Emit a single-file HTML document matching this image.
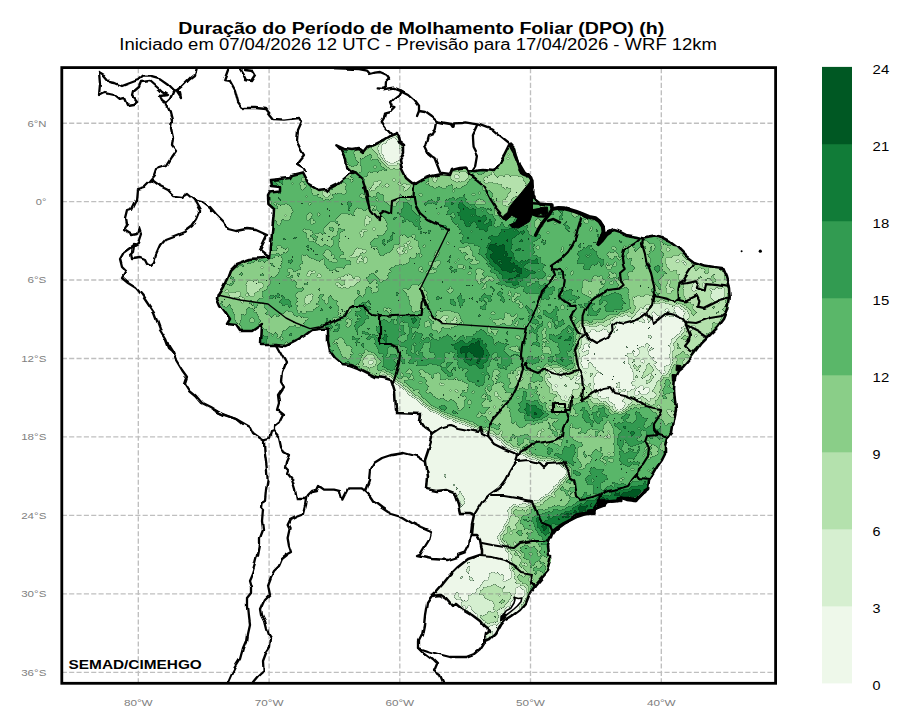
<!DOCTYPE html>
<html><head><meta charset="utf-8"><title>DPO</title>
<style>html,body{margin:0;padding:0;background:#fff}body{width:909px;height:727px;overflow:hidden;font-family:"Liberation Sans",sans-serif}svg{display:block}text{font-family:"Liberation Sans",sans-serif}</style>
</head><body>
<svg width="909" height="727" viewBox="0 0 909 727">
<rect width="909" height="727" fill="#fff"/>
<text x="178.3" y="34.4" font-size="16" font-weight="700" textLength="486" lengthAdjust="spacingAndGlyphs" fill="#000">Duração do Período de Molhamento Foliar (DPO) (h)</text>
<text x="119.3" y="50.4" font-size="16" textLength="597.7" lengthAdjust="spacingAndGlyphs" fill="#000">Iniciado em 07/04/2026 12 UTC - Previsão para 17/04/2026 - WRF 12km</text>
<defs>
<clipPath id="ax"><rect x="61.8" y="67.6" width="713.8" height="615.7"/></clipPath>
<clipPath id="br"><path d="M270.0 258.0 L271.0 248.0 L272.0 232.0 L273.6 216.0 L274.0 209.0 L268.4 204.0 L268.0 196.0 L270.0 192.4 L280.0 191.6 L280.0 187.0 L271.0 186.0 L270.0 180.0 L290.0 178.0 L292.0 175.0 L302.0 172.4 L306.0 180.0 L308.0 184.0 L318.0 190.0 L326.0 189.0 L328.0 191.0 L330.0 188.0 L338.0 184.0 L350.0 174.0 L355.0 172.4 L350.0 170.0 L347.0 167.0 L346.0 160.0 L343.0 154.0 L341.0 150.0 L337.0 145.6 L336.4 145.4 L344.0 149.0 L352.0 150.0 L358.0 149.0 L362.0 152.0 L366.0 147.0 L374.0 145.0 L384.0 140.0 L392.0 135.0 L397.0 133.0 L399.0 142.0 L404.0 146.0 L404.0 152.0 L400.0 160.0 L402.0 170.0 L406.0 178.0 L412.0 183.0 L416.0 184.0 L414.0 183.0 L416.0 183.6 L422.0 180.0 L432.0 176.0 L442.0 174.0 L450.0 175.0 L452.0 170.0 L460.0 168.0 L466.0 167.6 L468.0 170.0 L474.0 171.0 L484.0 170.0 L494.0 171.0 L500.0 163.0 L504.0 156.0 L509.0 146.0 L511.0 143.6 L515.0 148.0 L517.0 156.0 L520.0 166.0 L522.0 173.0 L528.0 175.0 L532.0 180.0 L532.0 186.0 L532.5 196.4 L541.5 203.7 L552.0 204.6 L552.7 208.9 L558.6 207.9 L563.9 208.3 L569.2 209.6 L575.8 211.6 L582.4 214.2 L589.0 216.9 L595.6 218.2 L599.6 221.5 L602.9 226.8 L603.5 232.0 L601.3 238.6 L598.5 243.9 L602.2 240.0 L606.2 234.7 L610.0 232.0 L604.0 234.0 L613.0 230.0 L620.0 232.0 L626.0 235.0 L638.0 237.0 L643.0 238.4 L654.0 236.6 L662.0 238.0 L670.0 242.0 L678.0 248.0 L686.0 256.0 L694.0 262.0 L702.0 264.8 L702.0 265.0 L714.0 267.0 L722.0 268.0 L726.0 277.0 L729.0 289.0 L729.6 299.0 L728.0 309.0 L724.0 319.0 L718.0 327.0 L710.0 335.0 L702.0 343.0 L696.0 351.0 L690.0 359.0 L683.0 367.0 L678.0 371.0 L675.0 377.0 L674.0 389.0 L675.0 401.0 L676.0 409.8 L676.0 410.0 L674.0 420.0 L672.0 432.0 L667.0 438.0 L665.0 446.0 L665.0 454.0 L662.0 460.0 L657.0 467.0 L653.0 474.0 L649.0 480.0 L648.0 489.0 L642.0 492.0 L638.0 496.0 L636.0 499.0 L628.0 498.0 L620.0 498.0 L617.0 501.0 L608.0 502.0 L600.0 506.0 L594.0 510.0 L586.0 513.0 L578.0 514.0 L574.0 516.0 L573.0 519.0 L564.0 524.0 L556.0 530.0 L550.0 538.0 L548.0 546.0 L549.0 554.8 L551.0 555.0 L551.0 561.0 L548.0 571.0 L541.0 579.0 L535.0 586.0 L530.0 593.0 L526.0 603.0 L520.0 610.0 L512.0 616.0 L504.0 621.0 L500.0 626.0 L496.0 633.0 L490.0 639.0 L485.0 641.4 L485.0 640.0 L486.0 634.0 L490.0 631.0 L488.0 629.0 L484.0 626.0 L480.0 621.0 L472.0 615.0 L462.0 609.0 L456.0 604.0 L452.0 606.0 L446.0 599.0 L440.0 595.0 L432.0 596.0 L435.0 593.0 L442.0 585.0 L450.0 575.0 L458.0 567.0 L468.0 559.0 L480.0 555.0 L482.0 554.8 L482.0 550.0 L480.0 540.0 L477.0 535.0 L471.0 535.0 L470.0 538.0 L471.0 534.0 L472.0 524.0 L474.0 515.0 L469.0 513.0 L460.0 513.0 L458.0 504.0 L454.0 493.0 L446.0 490.0 L436.0 491.0 L426.0 489.0 L427.0 476.0 L425.0 462.0 L425.0 460.0 L429.0 448.0 L432.0 438.0 L431.0 433.0 L424.0 428.0 L420.0 422.0 L421.0 414.0 L397.0 413.0 L397.0 410.0 L396.0 409.8 L395.0 393.0 L392.0 383.0 L391.0 380.0 L384.0 378.0 L376.0 377.0 L368.0 373.0 L358.0 368.0 L350.0 365.0 L342.0 364.0 L335.0 358.0 L330.0 351.0 L328.0 341.0 L328.0 331.0 L328.0 328.6 L319.0 329.0 L312.0 330.0 L304.0 336.0 L296.0 341.0 L286.0 346.0 L276.0 345.0 L261.0 345.0 L262.0 324.0 L252.0 331.0 L240.0 331.0 L236.0 325.0 L227.0 324.0 L230.0 319.0 L226.0 313.0 L220.0 305.0 L217.0 298.0 L218.0 295.0 L223.0 287.0 L227.0 279.0 L230.0 271.0 L236.0 265.0 L236.0 264.0 L250.0 259.0 L270.0 257.6Z"/></clipPath>
<filter id="fld" filterUnits="userSpaceOnUse" x="200" y="110" width="560" height="560" color-interpolation-filters="sRGB">
<feGaussianBlur in="SourceGraphic" stdDeviation="3.0" result="sb"/>
<feColorMatrix in="sb" type="matrix" values="1 0 0 0 0 1 0 0 0 0 1 0 0 0 0 0 0 0 0 1" result="m"/>
<feColorMatrix in="sb" type="matrix" values="0 1 0 0 0 0 1 0 0 0 0 1 0 0 0 0 0 0 0 1" result="am"/>
<feTurbulence type="fractalNoise" baseFrequency="0.045" numOctaves="3" seed="3" result="t"/>
<feColorMatrix in="t" type="matrix" values="1 0 0 0 0 1 0 0 0 0 1 0 0 0 0 0 0 0 0 1" result="n1"/>
<feTurbulence type="fractalNoise" baseFrequency="0.17" numOctaves="2" seed="8" result="t2"/>
<feColorMatrix in="t2" type="matrix" values="1 0 0 0 0 1 0 0 0 0 1 0 0 0 0 0 0 0 0 1" result="n2"/>
<feComposite in="n1" in2="n2" operator="arithmetic" k1="0" k2="0.65" k3="0.35" k4="0" result="n"/>
<feComposite in="am" in2="n" operator="arithmetic" k1="1" k2="0" k3="0" k4="0" result="p"/>
<feComposite in="m" in2="p" operator="arithmetic" k1="0" k2="0.6" k3="0.4" k4="0" result="qq"/>
<feComposite in="qq" in2="am" operator="arithmetic" k1="0" k2="2" k3="-0.4" k4="-0.1" result="v"/>
<feComponentTransfer in="v" result="q"><feFuncR type="discrete" tableValues="0 .14 .28 .42 .57 .71 .85 1"/><feFuncG type="discrete" tableValues="0 .14 .28 .42 .57 .71 .85 1"/><feFuncB type="discrete" tableValues="0 .14 .28 .42 .57 .71 .85 1"/></feComponentTransfer>
<feConvolveMatrix in="q" order="3" kernelMatrix="0 -1 0 -1 4 -1 0 -1 0" divisor="1" preserveAlpha="true" result="lp"/>
<feColorMatrix in="lp" type="matrix" values="0 0 0 0 0.06 0 0 0 0 0.18 0 0 0 0 0.1 1.8 0 0 0 0" result="ed"/>
<feComponentTransfer in="v" result="c"><feFuncR type="discrete" tableValues="0.9333 0.8392 0.7059 0.5412 0.3529 0.1961 0.0667 0.0000"/><feFuncG type="discrete" tableValues="0.9725 0.9373 0.8824 0.8078 0.7176 0.6078 0.4863 0.3451"/><feFuncB type="discrete" tableValues="0.9176 0.8157 0.6784 0.5333 0.4118 0.3176 0.2196 0.1373"/></feComponentTransfer>
<feMerge><feMergeNode in="c"/><feMergeNode in="ed"/></feMerge>
</filter>
<filter id="wb" filterUnits="userSpaceOnUse" x="55" y="60" width="730" height="630"><feTurbulence type="fractalNoise" baseFrequency="0.09" numOctaves="1" seed="11" result="w"/><feDisplacementMap in="SourceGraphic" in2="w" scale="5.0" xChannelSelector="R" yChannelSelector="G"/></filter>
</defs>
<g clip-path="url(#ax)">
<g clip-path="url(#br)">
<g filter="url(#fld)">
<rect x="190" y="100" width="580" height="580" fill="#8d9900"/>
<path d="M470.0 330.0 L560.0 300.0 L600.0 330.0 L700.0 400.0 L720.0 470.0 L660.0 520.0 L560.0 530.0 L520.0 600.0 L480.0 560.0 L500.0 470.0 L470.0 420.0Z" fill="#8dd900"/>
<path d="M380.0 310.0 L470.0 310.0 L500.0 400.0 L440.0 420.0 L390.0 380.0Z" fill="#8db200"/>
<path d="M540.0 250.0 L740.0 230.0 L740.0 330.0 L600.0 340.0 L540.0 300.0Z" fill="#8da600"/>
<path d="M440.0 190.0 L520.0 195.0 L565.0 290.0 L520.0 315.0 L450.0 265.0Z" fill="#8dd900"/>
<path d="M275.0 206.7 L288.3 204.3 L295.0 211.7 L290.0 221.7 L278.3 218.3Z" fill="#729900"/>
<path d="M306.7 210.0 L320.0 208.3 L325.0 220.0 L316.7 225.0 L308.3 221.7Z" fill="#729900"/>
<path d="M320.0 225.0 L336.7 221.7 L353.3 208.3 L366.7 205.0 L383.3 213.3 L391.7 225.0 L383.3 235.0 L370.0 240.0 L366.7 253.3 L380.0 258.3 L391.7 248.3 L400.0 240.0 L413.3 236.7 L423.3 240.0 L416.7 250.0 L406.7 256.7 L396.7 265.0 L391.7 276.7 L380.0 285.0 L370.0 295.0 L360.0 301.7 L343.3 306.7 L333.3 301.7 L320.0 306.7 L306.7 311.7 L295.0 306.7 L298.3 293.3 L310.0 281.7 L305.0 270.0 L298.3 256.7 L306.7 250.0 L320.0 261.7 L333.3 271.7 L346.7 266.7 L338.3 251.7 L326.7 240.0Z" fill="#729900"/>
<path d="M321.7 240.0 L338.3 241.7 L343.3 256.7 L330.0 258.3Z" fill="#8d9900"/>
<path d="M370.0 236.7 L385.0 238.3 L388.3 256.7 L373.3 255.0Z" fill="#8d9900"/>
<path d="M351.7 250.0 L365.0 246.7 L368.3 255.0 L356.7 260.0Z" fill="#5a9900"/>
<path d="M300.0 296.7 L313.3 293.3 L318.3 301.7 L305.0 306.7Z" fill="#5d9900"/>
<path d="M220.0 285.0 L230.0 271.7 L246.7 265.0 L266.7 261.7 L276.7 271.7 L270.0 285.0 L256.7 295.0 L240.0 301.7 L225.0 296.7Z" fill="#6d9900"/>
<path d="M243.3 280.0 L260.0 280.0 L262.7 290.0 L248.3 294.3Z" fill="#5a9900"/>
<path d="M230.0 305.0 L253.3 305.0 L276.7 315.0 L286.7 325.0 L270.0 328.3 L250.0 318.3 L233.3 315.0Z" fill="#759900"/>
<path d="M321.7 191.0 L330.0 190.0 L331.7 195.7 L323.3 196.7Z" fill="#309900"/>
<path d="M338.3 145.0 L396.7 133.3 L410.0 185.0 L413.3 196.7 L376.7 221.7 L366.7 185.0Z" fill="#6d9900"/>
<path d="M356.7 158.3 L376.7 156.7 L380.0 175.0 L363.3 178.3Z" fill="#829900"/>
<path d="M371.7 190.0 L396.7 183.3 L410.0 196.7 L383.3 215.0 L374.0 205.0Z" fill="#859900"/>
<path d="M381.7 143.3 L398.3 134.3 L406.0 158.3 L391.7 165.7 L381.7 157.7Z" fill="#0d9900"/>
<path d="M338.3 146.7 L350.0 148.3 L356.7 161.7 L353.3 168.3 L346.7 161.7Z" fill="#aa9900"/>
<path d="M401.7 201.7 L413.3 205.0 L423.3 221.7 L413.3 225.0 L403.3 215.0Z" fill="#a59900"/>
<path d="M406.7 288.3 L423.3 281.7 L426.7 298.3 L420.0 315.0 L406.7 311.7Z" fill="#729900"/>
<path d="M436.7 313.3 L460.0 311.7 L463.3 325.0 L443.3 326.7Z" fill="#6db200"/>
<path d="M330.0 318.3 L356.7 305.0 L380.0 315.0 L423.3 316.7 L443.3 331.7 L463.3 338.3 L513.0 338.3 L513.0 367.0 L333.3 367.0Z" fill="#92b200"/>
<path d="M350.0 318.3 L376.7 318.3 L376.7 338.3 L353.3 338.3Z" fill="#9f9900"/>
<path d="M333.3 338.3 L350.0 331.7 L356.7 351.7 L343.3 361.7Z" fill="#709900"/>
<path d="M363.3 355.0 L375.0 353.3 L376.7 367.0 L365.0 367.0Z" fill="#5a9900"/>
<path d="M380.0 316.7 L420.0 316.7 L420.0 325.0 L400.0 325.0 L400.0 345.0 L380.0 345.0Z" fill="#adb200"/>
<path d="M223.3 298.3 L253.3 301.7 L293.3 311.7 L310.0 325.0 L276.7 325.0 L243.3 318.3 L223.3 305.0Z" fill="#809900"/>
<path d="M466.7 171.7 L496.7 168.3 L510.0 145.0 L521.7 175.0 L530.0 188.3 L513.3 208.3 L500.0 211.7 L486.7 188.3Z" fill="#659900"/>
<path d="M515.0 175.0 L523.3 175.0 L530.0 190.0 L520.0 196.7 L513.3 188.3Z" fill="#5a9900"/>
<path d="M430.0 175.0 L466.7 170.0 L473.3 178.3 L460.0 188.3 L443.3 185.0 L430.0 186.7Z" fill="#709900"/>
<path d="M540.0 275.0 L563.3 271.7 L576.7 311.7 L580.0 367.0 L523.3 367.0 L530.0 311.7Z" fill="#97d900"/>
<path d="M580.0 221.7 L603.3 235.0 L640.0 238.3 L643.3 265.0 L630.0 281.7 L586.7 280.0 L576.7 265.0Z" fill="#93a600"/>
<path d="M580.0 281.7 L616.7 271.7 L630.0 291.7 L586.7 298.3Z" fill="#7da600"/>
<path d="M593.3 298.3 L616.7 291.7 L630.0 305.0 L620.0 318.3 L596.7 315.0Z" fill="#9fa600"/>
<path d="M623.3 238.3 L646.7 240.0 L656.7 298.3 L630.0 298.3 L626.7 268.3Z" fill="#7da600"/>
<path d="M663.3 241.7 L693.3 261.7 L683.3 281.7 L676.7 298.3 L660.0 291.7Z" fill="#65a600"/>
<path d="M683.3 265.0 L716.7 265.0 L730.0 281.7 L726.7 305.0 L696.7 311.7 L680.0 298.3Z" fill="#52a600"/>
<path d="M586.7 325.0 L616.7 321.7 L646.7 311.7 L650.0 325.0 L616.7 338.3 L590.0 341.7Z" fill="#4aa600"/>
<path d="M630.0 298.3 L650.0 291.7 L656.7 315.0 L643.3 321.7Z" fill="#4aa600"/>
<path d="M583.3 338.3 L616.7 338.3 L650.0 325.0 L663.3 311.7 L690.0 338.3 L690.0 367.0 L583.3 367.0Z" fill="#289900"/>
<path d="M656.7 301.7 L683.3 305.0 L696.7 318.3 L686.7 338.3 L663.3 325.0 L650.0 311.7Z" fill="#30a600"/>
<path d="M696.7 311.7 L726.7 298.3 L723.3 318.3 L706.7 338.3 L690.0 338.3Z" fill="#5aa600"/>
<path d="M448.3 196.7 L473.3 200.0 L498.3 223.3 L528.3 233.3 L545.0 271.7 L541.7 295.0 L513.3 288.3 L488.3 266.7 L465.0 240.0 L451.7 218.3Z" fill="#add900"/>
<path d="M459.3 204.3 L475.0 208.3 L500.0 233.3 L525.0 255.0 L535.0 278.3 L517.3 279.0 L495.0 260.0 L475.0 236.7 L461.7 217.7Z" fill="#c2d900"/>
<path d="M493.3 244.3 L508.3 249.0 L523.3 265.0 L529.0 278.3 L515.0 277.3 L500.7 261.0Z" fill="#e2d900"/>
<path d="M396.7 363.3 L520.0 363.3 L513.3 413.3 L490.0 426.7 L463.3 410.0 L430.0 396.7 L400.0 380.0Z" fill="#80b200"/>
<path d="M400.0 336.7 L446.7 333.3 L496.7 340.0 L513.3 360.0 L505.0 380.0 L480.0 385.0 L446.7 376.7 L413.3 365.0 L400.0 353.3Z" fill="#9db200"/>
<path d="M453.3 341.7 L478.3 338.3 L491.7 353.3 L485.0 368.3 L465.0 365.0Z" fill="#c5d900"/>
<path d="M461.7 346.7 L476.7 344.0 L486.0 355.0 L480.0 363.3 L468.3 360.7Z" fill="#dcd900"/>
<path d="M490.0 370.0 L580.0 370.0 L580.0 430.0 L566.7 453.3 L520.0 453.3 L490.0 430.0Z" fill="#80d900"/>
<path d="M524.0 402.7 L543.3 400.7 L547.3 417.3 L530.0 422.0Z" fill="#bdd900"/>
<path d="M566.7 390.0 L663.3 390.0 L663.3 496.7 L566.7 496.7Z" fill="#8fd900"/>
<path d="M593.3 406.7 L633.3 403.3 L646.7 416.7 L640.0 440.0 L620.0 430.0 L596.7 426.7Z" fill="#a2d900"/>
<path d="M576.7 430.0 L600.0 430.0 L603.3 456.7 L580.0 463.3Z" fill="#72d900"/>
<path d="M613.3 440.0 L643.3 443.3 L640.0 470.0 L616.7 463.3Z" fill="#a2d900"/>
<path d="M603.3 423.3 L613.3 423.3 L615.0 456.7 L605.0 456.7Z" fill="#65d900"/>
<path d="M580.0 390.0 L656.7 391.7 L653.3 406.7 L613.3 401.7 L583.3 406.7Z" fill="#65d900"/>
<path d="M580.0 473.3 L646.7 470.0 L643.3 493.3 L583.3 496.7Z" fill="#9fd900"/>
<path d="M640.0 430.0 L670.0 430.0 L666.7 483.3 L640.0 483.3Z" fill="#87d900"/>
<path d="M673.3 363.3 L683.0 363.3 L683.0 430.0 L670.0 430.0Z" fill="#8dd900"/>
<path d="M380.0 370.0 L392.0 378.0 L400.0 385.0 L412.0 393.0 L422.0 403.0 L432.0 410.0 L445.0 416.0 L460.0 422.0 L475.0 428.0 L490.0 433.0 L505.0 445.0 L520.0 452.0 L540.0 460.0 L560.0 462.0 L568.0 468.0 L569.0 478.0 L560.0 490.0 L547.0 497.0 L537.0 503.0 L520.0 510.0 L510.0 517.0 L503.0 530.0 L497.0 543.0 L495.0 560.0 L380.0 560.0Z" fill="#089900"/>
<path d="M426.7 470.0 L500.0 470.0 L510.0 503.3 L500.0 536.7 L510.0 553.3 L510.0 570.0 L530.0 583.3 L510.0 643.3 L420.0 643.3Z" fill="#15d900"/>
<path d="M580.0 326.7 L613.3 316.7 L653.3 306.7 L680.0 310.0 L693.3 326.7 L690.0 353.3 L673.3 373.3 L660.0 393.3 L636.7 403.3 L620.0 413.3 L593.3 400.0 L578.3 380.0 L575.0 350.0Z" fill="#3dd900"/>
<path d="M586.7 333.3 L613.3 323.3 L650.0 313.3 L673.3 316.7 L686.7 330.0 L683.3 350.0 L666.7 370.0 L653.3 386.7 L633.3 396.7 L616.7 406.7 L596.7 393.3 L583.3 376.7 L580.0 350.0Z" fill="#29d900"/>
<path d="M593.3 340.0 L620.0 330.0 L640.0 326.7 L643.3 346.7 L626.7 360.0 L606.7 366.7 L593.3 360.0Z" fill="#15d900"/>
<path d="M650.0 316.7 L673.3 320.0 L680.0 333.3 L666.7 350.0 L653.3 343.3Z" fill="#15a600"/>
<path d="M630.0 360.0 L650.0 350.0 L656.7 363.3 L650.0 383.3 L636.7 390.0 L628.3 376.7Z" fill="#48d900"/>
<path d="M600.0 376.7 L623.3 370.0 L630.0 390.0 L616.7 400.0 L603.3 390.0Z" fill="#18d900"/>
<path d="M673.3 336.7 L690.0 333.3 L691.7 353.3 L680.0 366.7 L671.7 356.7Z" fill="#559900"/>
<path d="M673.3 363.3 L686.7 350.0 L678.3 373.3 L676.7 406.7 L673.3 436.7 L663.3 443.3 L653.3 410.0 L660.0 383.3Z" fill="#7ad900"/>
<path d="M683.3 316.7 L713.3 310.0 L726.7 300.0 L728.3 316.7 L706.7 336.7 L693.3 350.0 L686.7 346.7Z" fill="#60a600"/>
<path d="M543.3 366.7 L563.3 366.7 L573.3 383.3 L570.0 403.3 L560.0 406.7 L553.3 390.0Z" fill="#30d900"/>
<path d="M543.3 373.3 L560.0 370.0 L580.0 373.3 L580.0 396.7 L566.7 400.0 L553.3 386.7Z" fill="#3dd900"/>
<path d="M550.0 492.0 L572.0 472.0 L580.0 490.0 L582.0 500.0 L560.0 513.0 L545.0 517.0Z" fill="#7ad900"/>
<path d="M510.0 506.7 L543.3 496.7 L556.7 530.0 L553.3 570.0 L533.3 586.7 L516.7 570.0 L503.3 540.0Z" fill="#65d900"/>
<path d="M521.7 515.0 L540.0 505.0 L550.0 530.0 L551.7 556.7 L546.7 573.3 L535.0 578.3 L526.7 563.3 L518.3 543.3 L514.0 533.3Z" fill="#87d900"/>
<path d="M535.0 520.0 L546.7 513.3 L550.7 533.3 L549.0 545.0 L538.3 541.7Z" fill="#aad900"/>
<path d="M458.0 575.0 L482.0 567.0 L504.0 571.0 L520.0 585.0 L512.0 605.0 L496.0 621.0 L486.0 631.0 L478.0 621.0 L468.0 611.0 L458.0 601.0 L452.0 587.0Z" fill="#2d9900"/>
<path d="M472.0 595.0 L486.0 585.0 L500.0 583.0 L512.0 589.0 L512.0 601.0 L500.0 613.0 L488.0 625.0 L480.0 623.0 L474.0 611.0Z" fill="#4d9900"/>
<path d="M494.0 598.0 L510.0 594.0 L512.0 600.0 L498.0 606.0Z" fill="#709900"/>
<path d="M484.0 613.0 L498.0 611.0 L499.0 621.0 L486.0 624.0Z" fill="#709900"/>
<path d="M485.0 632.0 L492.0 631.0 L490.0 639.0 L485.0 640.0Z" fill="#659900"/>
<path d="M510.0 566.7 L533.3 573.3 L531.7 585.0 L516.7 583.3Z" fill="#72d900"/>
<path d="M537.8 515.5 L555.6 509.6 L575.4 499.7 L595.2 491.8 L615.0 483.9 L630.9 477.9 L646.7 470.0 L656.6 470.0 L648.7 481.9 L647.7 488.8 L638.8 497.7 L626.9 499.7 L617.0 500.7 L603.2 505.6 L591.3 512.6 L577.4 516.5 L563.6 523.5 L552.7 531.4 L549.7 545.2 L539.8 545.2 L538.8 529.4Z" fill="#aad900"/>
<path d="M541.8 523.5 L559.6 514.6 L579.4 505.6 L599.2 497.7 L619.0 492.8 L638.8 487.8 L646.7 479.9 L649.7 485.8 L639.8 497.7 L621.0 497.7 L605.1 503.7 L591.3 511.6 L577.4 515.9 L563.6 522.7 L551.7 531.4 L543.8 534.4Z" fill="#dad900"/>
<path d="M450.0 172.4 L466.0 171.0 L469.0 178.0 L458.0 181.0 L451.0 179.0Z" fill="#4a9900"/>
</g>
</g>
<path d="M138.3 683.3 V67.6 M269.1 683.3 V67.6 M399.8 683.3 V67.6 M530.5 683.3 V67.6 M661.3 683.3 V67.6 M61.8 123.2 H775.6 M61.8 201.6 H775.6 M61.8 280.0 H775.6 M61.8 358.5 H775.6 M61.8 436.9 H775.6 M61.8 515.4 H775.6 M61.8 593.9 H775.6 M61.8 672.3 H775.6" fill="none" stroke="#808080" stroke-opacity="0.5" stroke-width="1.35" stroke-dasharray="5.1 2.25"/>
<g filter="url(#wb)">
<path d="M355.0 172.0 L362.0 178.0 L365.0 186.0 L367.0 196.0 L369.0 206.0 L364.0 186.0 L367.0 200.0 L370.0 210.0 L376.0 217.0 L380.0 220.0 L380.0 214.0 L384.0 211.0 L391.0 214.0 L392.0 200.0 L400.0 197.0 L413.6 197.0" fill="none" stroke="#000" stroke-width="2.2" stroke-linejoin="round" stroke-linecap="round"/>
<path d="M414.0 183.6 L413.6 196.0 L415.0 204.0 L420.0 213.0 L428.0 220.0 L438.0 225.0 L449.0 229.0" fill="none" stroke="#000" stroke-width="2.2" stroke-linejoin="round" stroke-linecap="round"/>
<path d="M420.0 289.0 L423.0 297.0 L428.0 309.0 L434.0 318.0 L442.0 323.4" fill="none" stroke="#000" stroke-width="2.2" stroke-linejoin="round" stroke-linecap="round"/>
<path d="M420.0 289.0 L423.0 299.0 L421.6 315.0 L392.0 316.0 L391.0 316.6 L380.0 316.0 L380.0 344.0 L391.0 344.0 L392.0 345.0 L398.0 347.0 L400.0 353.0 L399.0 363.0 L396.0 373.0 L393.0 383.0" fill="none" stroke="#000" stroke-width="2.2" stroke-linejoin="round" stroke-linecap="round"/>
<path d="M468.0 170.0 L469.0 174.0 L476.0 179.0 L482.0 184.0 L487.0 192.0 L491.0 200.0 L496.0 208.0 L501.0 214.0 L505.0 218.0" fill="none" stroke="#000" stroke-width="2.2" stroke-linejoin="round" stroke-linecap="round"/>
<path d="M319.0 327.0 L330.0 323.0 L338.0 319.0 L346.0 317.0 L350.0 309.0 L354.0 306.0 L362.0 306.0 L368.0 311.0 L374.0 315.0 L380.0 316.0" fill="none" stroke="#000" stroke-width="2.2" stroke-linejoin="round" stroke-linecap="round"/>
<path d="M552.0 269.0 L554.0 275.0 L550.0 283.0 L542.0 291.0 L539.0 303.0 L532.0 317.0 L526.0 329.0 L522.0 345.0 L521.0 355.0 L522.0 365.0 L523.0 369.0 L520.0 379.0 L516.0 389.0 L512.0 397.0 L504.0 405.0 L500.0 409.8 L501.0 410.0 L494.0 418.0 L489.0 426.0 L488.0 437.0 L494.0 444.0 L504.0 449.0 L514.0 453.0 L518.0 456.0 L516.0 462.0 L510.0 472.0 L506.0 480.0 L500.0 488.0 L490.0 495.0 L482.0 502.0 L477.0 510.0 L474.0 515.0" fill="none" stroke="#000" stroke-width="2.2" stroke-linejoin="round" stroke-linecap="round"/>
<path d="M523.0 369.0 L526.0 363.0 L528.0 369.0 L538.0 373.0 L544.0 369.0 L552.0 373.0 L562.0 375.0 L573.0 371.0 L578.0 370.0" fill="none" stroke="#000" stroke-width="2.2" stroke-linejoin="round" stroke-linecap="round"/>
<path d="M581.0 218.0 L578.0 228.0 L575.0 240.0 L573.0 244.0 L568.0 252.0 L562.0 258.0 L552.0 264.8 L552.0 269.0 L559.8 270.0 L563.0 273.0 L563.7 281.0 L562.0 290.0 L559.8 295.0 L564.0 301.0 L570.0 305.0 L575.0 304.7 L576.0 308.5 L572.0 310.7 L570.0 316.0 L572.0 322.0 L575.0 328.0 L578.5 333.0 L585.0 334.0 L587.0 334.0 L585.0 335.0 L580.7 339.0 L577.0 345.0 L575.0 350.0 L578.0 365.0 L582.0 377.0 L583.0 389.0 L582.0 399.0 L581.0 401.0" fill="none" stroke="#000" stroke-width="2.2" stroke-linejoin="round" stroke-linecap="round"/>
<path d="M640.0 239.0 L634.0 244.0 L624.0 250.0 L622.0 258.0 L623.0 264.8 L624.7 270.0 L620.0 274.0 L621.0 281.0 L623.6 285.0 L619.0 288.7 L608.0 290.0 L601.6 294.0 L595.0 298.6 L589.5 303.0 L586.0 309.6 L583.5 317.0 L583.5 325.0 L585.0 331.6 L587.0 334.0" fill="none" stroke="#000" stroke-width="2.2" stroke-linejoin="round" stroke-linecap="round"/>
<path d="M643.0 239.0 L642.0 244.0 L645.0 254.0 L647.0 264.8 L648.0 265.0 L651.0 273.0 L654.0 285.0 L655.0 295.0 L654.0 298.0 L653.0 305.0 L646.0 314.0 L640.0 318.0 L631.0 322.0 L623.6 324.0 L617.0 321.7 L612.0 325.0 L612.6 330.5 L608.0 337.0 L601.6 340.0 L596.0 343.0 L589.5 339.0 L587.0 334.0" fill="none" stroke="#000" stroke-width="2.2" stroke-linejoin="round" stroke-linecap="round"/>
<path d="M653.2 298.6 L654.5 296.0 L666.4 298.6 L674.3 302.6 L678.9 298.6 L678.3 289.4 L679.6 282.8 L683.6 280.2 L688.8 272.2 L694.1 264.3" fill="none" stroke="#000" stroke-width="2.2" stroke-linejoin="round" stroke-linecap="round"/>
<path d="M679.6 282.8 L686.2 282.1 L696.8 280.2 L698.1 284.1 L696.8 288.1 L704.7 290.7 L706.0 284.1 L713.9 284.8 L724.5 286.1 L728.4 286.8" fill="none" stroke="#000" stroke-width="2.2" stroke-linejoin="round" stroke-linecap="round"/>
<path d="M678.9 300.0 L686.2 301.3 L696.8 296.0 L699.4 301.3 L698.1 306.6 L703.4 307.9 L711.3 303.9 L719.2 300.0 L727.1 298.0 L729.8 297.3" fill="none" stroke="#000" stroke-width="2.2" stroke-linejoin="round" stroke-linecap="round"/>
<path d="M646.0 314.0 L652.0 320.0 L653.0 324.0 L660.0 319.0 L668.0 312.6 L674.0 314.0 L683.0 318.0 L686.0 322.0 L696.0 323.0 L710.0 318.0 L722.0 316.0 L727.0 312.0" fill="none" stroke="#000" stroke-width="2.2" stroke-linejoin="round" stroke-linecap="round"/>
<path d="M686.0 322.0 L686.0 325.0 L698.0 331.0 L707.0 337.0" fill="none" stroke="#000" stroke-width="2.2" stroke-linejoin="round" stroke-linecap="round"/>
<path d="M686.0 325.0 L690.0 335.0 L689.0 341.0 L685.0 346.0 L690.0 351.0 L695.0 352.0" fill="none" stroke="#000" stroke-width="2.2" stroke-linejoin="round" stroke-linecap="round"/>
<path d="M581.0 401.0 L594.0 393.0 L604.0 388.0 L610.0 387.0 L614.0 393.0 L624.0 395.0 L634.0 399.0 L642.0 403.0 L646.0 406.0 L654.0 408.0 L662.0 409.0 L662.0 410.0 L658.0 418.0 L654.0 424.0 L654.0 430.0 L658.0 435.0 L665.0 437.0 L669.0 436.0" fill="none" stroke="#000" stroke-width="2.2" stroke-linejoin="round" stroke-linecap="round"/>
<path d="M658.0 435.0 L648.0 436.0 L646.0 442.0 L649.0 448.0 L648.0 456.0 L643.0 464.0 L638.0 469.0 L637.0 474.0 L640.0 478.0 L649.0 479.0" fill="none" stroke="#000" stroke-width="2.2" stroke-linejoin="round" stroke-linecap="round"/>
<path d="M637.0 474.0 L632.0 480.0 L628.0 486.0 L618.0 489.0 L608.0 491.0 L598.0 495.0 L588.0 498.0 L580.0 499.0 L577.0 496.0 L576.0 490.0 L574.0 480.0 L573.0 480.0 L570.0 478.0 L568.0 470.0 L564.0 462.0 L548.0 463.0 L544.0 467.0 L540.0 463.0 L528.0 460.0 L518.0 461.0" fill="none" stroke="#000" stroke-width="2.2" stroke-linejoin="round" stroke-linecap="round"/>
<path d="M600.0 496.0 L598.0 502.0 L594.0 508.0" fill="none" stroke="#000" stroke-width="2.2" stroke-linejoin="round" stroke-linecap="round"/>
<path d="M553.0 409.8 L553.0 403.0 L566.0 403.0 L566.0 409.8 L566.0 412.0 L553.0 412.0 L553.0 410.0" fill="none" stroke="#000" stroke-width="2.2" stroke-linejoin="round" stroke-linecap="round"/>
<path d="M573.0 397.0 L571.0 401.0 L570.0 409.8 L565.0 410.0 L566.0 412.0 L568.0 420.0 L564.0 428.0 L563.0 436.0 L556.0 440.0 L544.0 442.0 L532.0 444.0 L522.0 450.0 L518.0 456.0" fill="none" stroke="#000" stroke-width="2.2" stroke-linejoin="round" stroke-linecap="round"/>
<path d="M431.0 434.0 L440.0 428.0 L450.0 425.0 L458.0 428.0 L468.0 430.0 L478.0 432.0 L480.0 427.0 L482.0 434.0 L488.0 437.0" fill="none" stroke="#000" stroke-width="2.2" stroke-linejoin="round" stroke-linecap="round"/>
<path d="M492.0 496.0 L504.0 496.0 L516.0 498.0 L532.0 501.0 L535.0 508.0 L537.0 516.0 L540.0 522.0 L550.0 526.0 L552.0 530.0" fill="none" stroke="#000" stroke-width="2.2" stroke-linejoin="round" stroke-linecap="round"/>
<path d="M482.0 543.0 L492.0 545.0 L504.0 547.0 L514.0 548.0 L520.0 543.0 L532.0 541.0 L544.0 541.0 L549.0 540.0" fill="none" stroke="#000" stroke-width="2.2" stroke-linejoin="round" stroke-linecap="round"/>
<path d="M480.0 556.0 L492.0 557.0 L504.0 560.0 L514.0 565.0 L522.0 572.0 L532.0 574.0 L530.0 583.0 L535.0 586.0" fill="none" stroke="#000" stroke-width="2.2" stroke-linejoin="round" stroke-linecap="round"/>
</g>
<path d="M449.0 229.0 L432.0 264.0 L432.0 265.0 L420.0 289.0" fill="none" stroke="#000" stroke-width="1.4" stroke-linejoin="round" stroke-linecap="round"/>
<path d="M442.0 323.4 L526.0 329.0" fill="none" stroke="#000" stroke-width="1.4" stroke-linejoin="round" stroke-linecap="round"/>
<path d="M218.0 295.0 L240.0 300.0 L268.0 304.0 L286.0 318.0 L296.0 323.0 L310.0 328.6 L319.0 327.0" fill="none" stroke="#000" stroke-width="1.4" stroke-linejoin="round" stroke-linecap="round"/>
<g filter="url(#wb)">
<path d="M270.0 258.0 L271.0 248.0 L272.0 232.0 L273.6 216.0 L274.0 209.0 L268.4 204.0 L268.0 196.0 L270.0 192.4 L280.0 191.6 L280.0 187.0 L271.0 186.0 L270.0 180.0 L290.0 178.0 L292.0 175.0 L302.0 172.4 L306.0 180.0 L308.0 184.0 L318.0 190.0 L326.0 189.0 L328.0 191.0 L330.0 188.0 L338.0 184.0 L350.0 174.0 L355.0 172.4 L350.0 170.0 L347.0 167.0 L346.0 160.0 L343.0 154.0 L341.0 150.0 L337.0 145.6 L336.4 145.4 L344.0 149.0 L352.0 150.0 L358.0 149.0 L362.0 152.0 L366.0 147.0 L374.0 145.0 L384.0 140.0 L392.0 135.0 L397.0 133.0 L399.0 142.0 L404.0 146.0 L404.0 152.0 L400.0 160.0 L402.0 170.0 L406.0 178.0 L412.0 183.0 L416.0 184.0 L414.0 183.0 L416.0 183.6 L422.0 180.0 L432.0 176.0 L442.0 174.0 L450.0 175.0 L452.0 170.0 L460.0 168.0 L466.0 167.6 L468.0 170.0 L474.0 171.0 L484.0 170.0 L494.0 171.0 L500.0 163.0 L504.0 156.0 L509.0 146.0 L511.0 143.6 L515.0 148.0 L517.0 156.0 L520.0 166.0 L522.0 173.0 L528.0 175.0 L532.0 180.0 L532.0 186.0 L532.5 196.4 L541.5 203.7 L552.0 204.6 L552.7 208.9 L558.6 207.9 L563.9 208.3 L569.2 209.6 L575.8 211.6 L582.4 214.2 L589.0 216.9 L595.6 218.2 L599.6 221.5 L602.9 226.8 L603.5 232.0 L601.3 238.6 L598.5 243.9 L602.2 240.0 L606.2 234.7 L610.0 232.0 L604.0 234.0 L613.0 230.0 L620.0 232.0 L626.0 235.0 L638.0 237.0 L643.0 238.4 L654.0 236.6 L662.0 238.0 L670.0 242.0 L678.0 248.0 L686.0 256.0 L694.0 262.0 L702.0 264.8 L702.0 265.0 L714.0 267.0 L722.0 268.0 L726.0 277.0 L729.0 289.0 L729.6 299.0 L728.0 309.0 L724.0 319.0 L718.0 327.0 L710.0 335.0 L702.0 343.0 L696.0 351.0 L690.0 359.0 L683.0 367.0 L678.0 371.0 L675.0 377.0 L674.0 389.0 L675.0 401.0 L676.0 409.8 L676.0 410.0 L674.0 420.0 L672.0 432.0 L667.0 438.0 L665.0 446.0 L665.0 454.0 L662.0 460.0 L657.0 467.0 L653.0 474.0 L649.0 480.0 L648.0 489.0 L642.0 492.0 L638.0 496.0 L636.0 499.0 L628.0 498.0 L620.0 498.0 L617.0 501.0 L608.0 502.0 L600.0 506.0 L594.0 510.0 L586.0 513.0 L578.0 514.0 L574.0 516.0 L573.0 519.0 L564.0 524.0 L556.0 530.0 L550.0 538.0 L548.0 546.0 L549.0 554.8 L551.0 555.0 L551.0 561.0 L548.0 571.0 L541.0 579.0 L535.0 586.0 L530.0 593.0 L526.0 603.0 L520.0 610.0 L512.0 616.0 L504.0 621.0 L500.0 626.0 L496.0 633.0 L490.0 639.0 L485.0 641.4 L485.0 640.0 L486.0 634.0 L490.0 631.0 L488.0 629.0 L484.0 626.0 L480.0 621.0 L472.0 615.0 L462.0 609.0 L456.0 604.0 L452.0 606.0 L446.0 599.0 L440.0 595.0 L432.0 596.0 L435.0 593.0 L442.0 585.0 L450.0 575.0 L458.0 567.0 L468.0 559.0 L480.0 555.0 L482.0 554.8 L482.0 550.0 L480.0 540.0 L477.0 535.0 L471.0 535.0 L470.0 538.0 L471.0 534.0 L472.0 524.0 L474.0 515.0 L469.0 513.0 L460.0 513.0 L458.0 504.0 L454.0 493.0 L446.0 490.0 L436.0 491.0 L426.0 489.0 L427.0 476.0 L425.0 462.0 L425.0 460.0 L429.0 448.0 L432.0 438.0 L431.0 433.0 L424.0 428.0 L420.0 422.0 L421.0 414.0 L397.0 413.0 L397.0 410.0 L396.0 409.8 L395.0 393.0 L392.0 383.0 L391.0 380.0 L384.0 378.0 L376.0 377.0 L368.0 373.0 L358.0 368.0 L350.0 365.0 L342.0 364.0 L335.0 358.0 L330.0 351.0 L328.0 341.0 L328.0 331.0 L328.0 328.6 L319.0 329.0 L312.0 330.0 L304.0 336.0 L296.0 341.0 L286.0 346.0 L276.0 345.0 L261.0 345.0 L262.0 324.0 L252.0 331.0 L240.0 331.0 L236.0 325.0 L227.0 324.0 L230.0 319.0 L226.0 313.0 L220.0 305.0 L217.0 298.0 L218.0 295.0 L223.0 287.0 L227.0 279.0 L230.0 271.0 L236.0 265.0 L236.0 264.0 L250.0 259.0 L270.0 257.6 L270.0 258.0" fill="none" stroke="#000" stroke-width="2.55" stroke-linejoin="round" stroke-linecap="round"/>
<path d="M305.0 171.0 L304.0 168.0 L297.0 164.0 L300.0 160.0 L304.0 155.0 L301.0 150.0 L297.0 142.0 L298.0 130.0 L302.0 121.0 L298.0 118.0 L284.0 119.6 L274.0 119.0 L266.0 109.0 L256.0 108.0 L244.0 108.0" fill="none" stroke="#000" stroke-width="2.3" stroke-linejoin="round" stroke-linecap="round"/>
<path d="M244.0 69.0 L252.0 70.0 L255.0 75.0 L251.0 81.0 L246.0 80.0 L244.0 76.0" fill="none" stroke="#000" stroke-width="2.3" stroke-linejoin="round" stroke-linecap="round"/>
<path d="M228.0 69.0 L224.0 80.0 L230.0 81.0 L235.0 90.0 L238.0 102.0 L243.0 109.0" fill="none" stroke="#000" stroke-width="2.3" stroke-linejoin="round" stroke-linecap="round"/>
<path d="M240.0 69.0 L243.0 74.0" fill="none" stroke="#000" stroke-width="2.3" stroke-linejoin="round" stroke-linecap="round"/>
<path d="M210.0 207.0 L216.0 214.0 L224.0 222.0 L228.0 229.0 L236.0 231.0 L246.0 229.0 L256.0 230.0 L267.0 235.0 L260.0 250.0 L270.0 258.0" fill="none" stroke="#000" stroke-width="2.3" stroke-linejoin="round" stroke-linecap="round"/>
<path d="M330.0 68.0 L345.0 68.5 L359.0 69.0 L367.0 70.6 L370.0 74.0 L375.0 72.6 L380.0 72.0 L387.0 75.0 L389.0 78.0 L385.0 82.0 L384.6 89.0 L393.6 87.7 L400.8 90.4 L408.0 94.0 L414.7 100.0 L419.0 105.6 L419.0 111.0 L425.0 112.0 L432.0 117.0 L437.0 121.4 L442.4 122.5 L451.6 124.0 L453.6 126.7 L454.0 123.4 L462.0 123.0 L465.3 122.4 L478.5 124.7 L491.7 129.7 L501.6 137.9 L509.9 144.5 L514.8 152.8 L519.8 164.3 L524.7 172.6 L531.3 177.5" fill="none" stroke="#000" stroke-width="2.3" stroke-linejoin="round" stroke-linecap="round"/>
<path d="M384.6 89.0 L377.7 88.4" fill="none" stroke="#000" stroke-width="2.3" stroke-linejoin="round" stroke-linecap="round"/>
<path d="M419.0 111.0 L417.0 116.0" fill="none" stroke="#000" stroke-width="2.3" stroke-linejoin="round" stroke-linecap="round"/>
<path d="M400.8 90.4 L398.8 94.3 L393.6 98.3 L390.0 102.0 L392.0 107.0 L395.5 108.0 L392.0 111.5 L385.0 113.5 L384.0 118.8 L381.7 122.7 L385.6 128.0 L391.0 134.0" fill="none" stroke="#000" stroke-width="2.3" stroke-linejoin="round" stroke-linecap="round"/>
<path d="M437.0 121.4 L435.8 128.0 L433.0 134.0 L428.0 136.0 L426.6 141.0 L425.0 146.5 L428.0 153.0 L432.0 156.4 L434.5 158.0 L440.0 172.0" fill="none" stroke="#000" stroke-width="2.3" stroke-linejoin="round" stroke-linecap="round"/>
<path d="M476.9 125.4 L471.9 136.3 L472.6 147.8 L476.9 156.1 L475.2 166.0 L471.9 170.9" fill="none" stroke="#000" stroke-width="2.3" stroke-linejoin="round" stroke-linecap="round"/>
<path d="M276.0 345.0 L286.0 363.0 L282.0 373.0 L281.0 381.0 L284.0 386.0 L278.0 395.0 L279.0 403.0 L277.0 409.8 L279.0 410.0 L284.0 414.0 L280.0 422.0 L274.0 427.0 L274.0 431.0" fill="none" stroke="#000" stroke-width="2.3" stroke-linejoin="round" stroke-linecap="round"/>
<path d="M214.0 410.0 L224.0 415.0 L236.0 419.0 L250.0 427.0 L253.0 433.0 L260.0 438.0 L264.0 440.4 L264.4 450.0 L266.0 462.0 L267.0 470.0 L267.6 480.0 L266.0 490.0 L265.0 501.0 L261.6 503.0 L261.0 508.0 L263.0 510.0 L262.0 522.0 L263.0 530.0 L260.0 538.0 L260.0 544.0 L258.0 554.8 L257.0 555.0 L255.0 563.0 L252.0 573.0 L249.0 580.0 L251.0 587.0 L251.0 593.0 L247.0 598.0 L247.0 607.0 L248.0 617.0 L249.0 625.0 L247.0 634.0 L246.0 641.0 L243.0 648.0 L240.0 659.0 L235.0 667.0 L232.0 673.0 L228.0 682.0" fill="none" stroke="#000" stroke-width="2.3" stroke-linejoin="round" stroke-linecap="round"/>
<path d="M264.0 440.4 L269.0 439.0 L271.0 432.0 L274.0 431.0 L279.0 437.0 L281.0 446.0 L284.0 452.0 L289.0 455.0 L286.0 462.0 L285.0 467.0 L289.0 471.0 L288.0 474.0 L292.0 479.0 L295.0 489.0 L297.0 499.0 L307.0 499.0 L308.0 495.0 L312.0 491.0 L317.0 490.0 L319.0 486.0 L324.0 489.6 L334.0 489.6 L340.0 491.0 L342.4 499.6 L348.0 488.4 L358.0 488.4 L363.0 488.4 L365.0 491.0" fill="none" stroke="#000" stroke-width="2.3" stroke-linejoin="round" stroke-linecap="round"/>
<path d="M307.0 499.0 L306.0 506.0 L304.0 514.0 L296.0 517.0 L290.0 520.0 L287.6 525.0 L289.6 529.0 L287.6 538.0 L289.0 546.0 L291.0 552.0 L286.0 554.8 L287.0 555.0 L282.0 559.0 L279.0 566.0 L274.0 571.0 L271.0 577.0 L268.0 585.0 L270.0 595.0 L265.0 600.0 L261.0 609.0 L262.0 615.0 L265.0 621.0 L267.0 629.0 L269.0 635.0 L271.0 638.0 L270.0 647.0 L266.0 653.0 L263.0 661.0 L263.6 671.0 L258.0 676.0 L253.0 682.0" fill="none" stroke="#000" stroke-width="2.3" stroke-linejoin="round" stroke-linecap="round"/>
<path d="M365.0 491.0 L369.0 480.0 L370.0 470.0 L374.0 463.0 L382.0 458.0 L391.0 455.0 L392.0 455.0 L404.0 453.0 L416.0 456.0 L424.0 461.0" fill="none" stroke="#000" stroke-width="2.3" stroke-linejoin="round" stroke-linecap="round"/>
<path d="M365.0 491.0 L370.0 496.0 L374.0 502.0 L382.0 508.0 L388.0 512.0 L391.0 513.6 L392.0 514.0 L402.0 517.0 L412.0 523.0 L422.0 528.0 L431.0 532.0 L429.0 540.0 L424.0 548.0 L420.0 554.8 L417.0 556.0 L432.0 559.0 L448.0 560.0 L458.0 557.0 L458.0 555.0 L458.0 554.8 L466.0 552.0 L469.0 546.0 L470.0 538.0" fill="none" stroke="#000" stroke-width="2.3" stroke-linejoin="round" stroke-linecap="round"/>
<path d="M431.0 597.0 L427.0 603.0 L425.0 615.0 L424.0 625.0 L422.0 635.0 L419.0 641.0 L419.0 648.0 L428.0 651.0 L438.0 654.0 L450.0 657.0 L466.0 657.0 L474.0 654.0 L480.0 649.0 L485.0 641.4" fill="none" stroke="#000" stroke-width="2.3" stroke-linejoin="round" stroke-linecap="round"/>
<path d="M419.0 648.0 L424.0 653.0 L432.0 659.0 L437.0 664.0 L434.0 671.0 L440.0 675.0 L443.0 682.0" fill="none" stroke="#000" stroke-width="2.3" stroke-linejoin="round" stroke-linecap="round"/>
<path d="M99.0 72.0 L104.0 75.0 L110.0 82.0 L115.0 83.0 L122.0 86.0 L130.0 83.0 L138.0 80.0 L143.0 75.6 L150.0 75.6 L160.0 78.4 L168.0 84.0 L174.0 90.0 L179.0 92.0 L180.0 97.0 L176.0 91.0 L182.0 86.0 L190.0 78.0 L194.0 75.0 L195.6 69.0" fill="none" stroke="#000" stroke-width="2.3" stroke-linejoin="round" stroke-linecap="round"/>
<path d="M99.0 72.0 L100.0 84.0 L99.0 95.0 L105.0 92.0 L114.0 94.0 L120.0 99.0 L124.0 98.0 L127.0 105.0 L133.0 104.0 L137.0 101.0 L133.0 96.0 L134.0 92.0 L140.0 87.0 L142.0 82.0 L150.0 81.0 L158.0 88.0 L162.0 92.0 L167.0 95.0 L160.0 96.0 L162.0 100.0 L166.0 103.0 L170.0 112.0 L172.0 120.0 L171.0 128.0 L173.0 138.0 L172.0 146.0 L176.0 151.0 L171.0 158.0 L166.0 166.0 L157.0 169.0 L155.0 175.0 L151.0 180.0 L144.0 187.0 L137.0 189.0 L136.0 200.0 L131.0 210.0 L128.0 211.0 L126.0 219.0 L127.0 225.0 L124.0 230.0 L132.0 235.0 L137.0 234.0 L139.0 228.0 L141.0 234.0 L138.0 243.0 L131.0 247.0 L124.0 252.0 L120.0 259.0 L122.0 267.0 L126.0 271.0 L122.0 278.0 L128.0 283.0 L136.0 288.0 L142.0 295.0 L148.0 304.0 L154.0 313.0 L160.0 329.0 L166.0 339.0 L170.0 349.0 L175.0 355.8 L165.0 340.0 L168.0 348.0 L173.0 352.0 L176.0 360.0 L182.0 370.0 L187.0 377.0 L185.0 383.0 L190.0 391.0 L196.0 396.0 L202.0 403.0 L210.0 407.0 L220.0 413.0 L228.0 416.0 L236.0 419.0 L243.0 425.0" fill="none" stroke="#000" stroke-width="2.3" stroke-linejoin="round" stroke-linecap="round"/>
<path d="M166.0 103.0 L170.0 99.0 L174.0 90.0" fill="none" stroke="#000" stroke-width="2.3" stroke-linejoin="round" stroke-linecap="round"/>
<path d="M151.0 180.0 L158.0 185.0 L168.0 190.0 L174.0 196.0 L182.0 197.0 L187.0 194.0 L194.0 200.0 L202.0 202.0 L210.0 208.0 L212.0 210.8 L211.0 211.0" fill="none" stroke="#000" stroke-width="2.3" stroke-linejoin="round" stroke-linecap="round"/>
<path d="M194.0 200.0 L200.0 210.8 L200.0 212.0 L197.0 219.0 L192.0 226.0 L184.0 232.0 L174.0 236.0 L166.0 239.0 L160.0 246.0 L156.0 255.0 L154.0 262.0 L150.0 266.0 L146.0 264.0 L144.0 260.0 L139.0 258.0 L132.0 259.0 L131.0 254.0 L133.0 252.0 L134.0 244.0" fill="none" stroke="#000" stroke-width="2.3" stroke-linejoin="round" stroke-linecap="round"/>
</g>
<path d="M552.0 205.0 L552.0 209.6 L549.4 214.2 L546.1 218.2 L542.1 223.5 L538.8 228.7 L535.5 235.3" fill="none" stroke="#000" stroke-width="3.4" stroke-linejoin="round" stroke-linecap="round"/>
<path d="M532.2 203.3 L541.5 203.7 L551.8 204.6" fill="none" stroke="#000" stroke-width="2.4" stroke-linejoin="round" stroke-linecap="round"/>
<path d="M548.1 220.8 L553.4 219.1 L560.0 222.5" fill="none" stroke="#000" stroke-width="2.6" stroke-linejoin="round" stroke-linecap="round"/>
<path d="M532.2 214.2 L537.5 216.2 L544.1 216.5 L548.7 214.6" fill="none" stroke="#000" stroke-width="2.4" stroke-linejoin="round" stroke-linecap="round"/>
<path d="M552.7 208.9 L558.6 207.9 L563.9 208.3 L569.2 209.6 L575.8 211.6 L582.4 214.2 L589.0 216.9 L595.6 218.2 L599.6 221.5 L602.9 226.8 L603.5 232.0 L601.3 238.6 L598.5 243.9 L602.2 240.0 L606.2 234.7 L610.0 232.0" fill="none" stroke="#000" stroke-width="4.0" stroke-linejoin="round" stroke-linecap="round"/>
<path d="M519.7 170.0 L523.0 174.0 L529.6 176.6 L532.2 180.6 L532.5 187.2" fill="none" stroke="#000" stroke-width="3.0" stroke-linejoin="round" stroke-linecap="round"/>
<path d="M647.7 488.8 L638.8 497.7 L635.8 500.7 L626.9 499.7 L621.0 497.7 L617.0 500.7 L607.1 501.7 L603.2 505.6 L595.2 508.6 L591.3 512.6 L583.4 514.6 L577.4 516.5 L571.5 519.5 L563.6 523.5 L557.6 527.4 L552.7 531.4 L550.7 537.3" fill="none" stroke="#000" stroke-width="3.0" stroke-linejoin="round" stroke-linecap="round"/>
<path d="M514.0 597.4 L518.4 598.5 L521.7 598.0 L521.0 601.8 L517.3 606.0 L514.0 609.0 L510.7 611.7 L506.3 615.0 L504.0 614.0 L506.3 610.6 L510.7 608.4 L514.0 603.0 L515.0 599.6Z" fill="#fff" stroke="#000" stroke-width="1.6" stroke-linejoin="round"/>
<path d="M529.6 182.5 L532.5 187.2 L532.5 213.6 L529.6 221.5 L524.3 224.8 L518.4 228.1 L511.8 227.4 L509.8 224.8 L515.7 222.1 L517.7 218.2 L511.8 215.5 L505.8 220.8 L503.2 218.2 L503.9 215.5 L507.8 212.2 L509.1 207.6 L513.1 202.3 L521.0 193.1Z" fill="#000" stroke="#000" stroke-width="1"/>
<path d="M540.2 207.6 L547.4 207.0 L548.1 213.6 L542.8 215.5 L540.2 212.2Z" fill="#000" stroke="#000" stroke-width="1"/>
<path d="M532.9 195.7 L534.9 195.3 L534.9 197.5 L532.9 197.7Z" fill="#000" stroke="#000" stroke-width="1"/>
<path d="M532.5 209.6 L540.2 208.3 L540.8 213.6 L536.2 216.2 L532.5 214.9Z" fill="#000" stroke="#000" stroke-width="1"/>
<path d="M506.3 615.0 L504.0 613.5 L501.0 616.0 L500.5 621.0 L505.0 619.0Z" fill="#000" stroke="#000" stroke-width="1"/>
<path d="M597.2 499.7 L605.1 499.7 L605.5 506.2 L597.6 506.8Z" fill="#000" stroke="#000" stroke-width="1"/>
<path d="M617.0 497.7 L622.0 497.7 L622.0 501.7 L617.0 501.7Z" fill="#000" stroke="#000" stroke-width="1"/>
<path d="M587.3 510.0 L595.2 509.2 L595.2 514.4 L587.7 514.8Z" fill="#000" stroke="#000" stroke-width="1"/>
<path d="M632.5 498.7 L636.8 498.3 L636.8 501.7 L632.9 501.7Z" fill="#000" stroke="#000" stroke-width="1"/>
<path d="M676.4 365.0 L681.0 365.6 L680.0 371.0 L676.0 370.6Z" fill="#000" stroke="#000" stroke-width="1"/>
<path d="M672.0 374.6 L675.6 374.6 L675.6 381.0 L672.4 381.0Z" fill="#000" stroke="#000" stroke-width="1"/>
<circle cx="741.6" cy="251.2" r="1.0" fill="#000"/>
<circle cx="760.3" cy="251.2" r="1.6" fill="#000"/>
<text x="68.6" y="668.6" font-size="12.6" font-weight="700" textLength="133.2" lengthAdjust="spacingAndGlyphs" fill="#000">SEMAD/CIMEHGO</text>
</g>
<rect x="61.8" y="67.6" width="713.8" height="615.7" fill="none" stroke="#000" stroke-width="2.8"/>
<text x="27.4" y="126.5" font-size="9.8" fill="#808080" textLength="19.0" lengthAdjust="spacingAndGlyphs">6°N</text>
<text x="35.8" y="204.9" font-size="9.8" fill="#808080" textLength="10.6" lengthAdjust="spacingAndGlyphs">0°</text>
<text x="27.4" y="283.3" font-size="9.8" fill="#808080" textLength="19.0" lengthAdjust="spacingAndGlyphs">6°S</text>
<text x="21.2" y="361.8" font-size="9.8" fill="#808080" textLength="25.2" lengthAdjust="spacingAndGlyphs">12°S</text>
<text x="21.2" y="440.2" font-size="9.8" fill="#808080" textLength="25.2" lengthAdjust="spacingAndGlyphs">18°S</text>
<text x="21.2" y="518.7" font-size="9.8" fill="#808080" textLength="25.2" lengthAdjust="spacingAndGlyphs">24°S</text>
<text x="21.2" y="597.1" font-size="9.8" fill="#808080" textLength="25.2" lengthAdjust="spacingAndGlyphs">30°S</text>
<text x="21.2" y="675.6" font-size="9.8" fill="#808080" textLength="25.2" lengthAdjust="spacingAndGlyphs">36°S</text>
<text x="123.9" y="706" font-size="9.8" fill="#808080" textLength="28.8" lengthAdjust="spacingAndGlyphs">80°W</text>
<text x="254.7" y="706" font-size="9.8" fill="#808080" textLength="28.8" lengthAdjust="spacingAndGlyphs">70°W</text>
<text x="385.4" y="706" font-size="9.8" fill="#808080" textLength="28.8" lengthAdjust="spacingAndGlyphs">60°W</text>
<text x="516.1" y="706" font-size="9.8" fill="#808080" textLength="28.8" lengthAdjust="spacingAndGlyphs">50°W</text>
<text x="646.9" y="706" font-size="9.8" fill="#808080" textLength="28.8" lengthAdjust="spacingAndGlyphs">40°W</text>
<rect x="822.0" y="606.08" width="30.0" height="77.32" fill="#eef8ea"/>
<rect x="822.0" y="529.05" width="30.0" height="77.33" fill="#d6efd0"/>
<rect x="822.0" y="452.02" width="30.0" height="77.32" fill="#b4e1ad"/>
<rect x="822.0" y="375.00" width="30.0" height="77.32" fill="#8ace88"/>
<rect x="822.0" y="297.98" width="30.0" height="77.32" fill="#5ab769"/>
<rect x="822.0" y="220.95" width="30.0" height="77.33" fill="#329b51"/>
<rect x="822.0" y="143.92" width="30.0" height="77.33" fill="#117c38"/>
<rect x="822.0" y="66.90" width="30.0" height="77.32" fill="#005823"/>
<text x="872.6" y="690.2" font-size="13.4" fill="#000" textLength="8.0" lengthAdjust="spacingAndGlyphs">0</text>
<text x="872.6" y="613.2" font-size="13.4" fill="#000" textLength="8.0" lengthAdjust="spacingAndGlyphs">3</text>
<text x="872.6" y="536.1" font-size="13.4" fill="#000" textLength="8.0" lengthAdjust="spacingAndGlyphs">6</text>
<text x="872.6" y="459.1" font-size="13.4" fill="#000" textLength="8.0" lengthAdjust="spacingAndGlyphs">9</text>
<text x="872.6" y="382.1" font-size="13.4" fill="#000" textLength="16.6" lengthAdjust="spacingAndGlyphs">12</text>
<text x="872.6" y="305.1" font-size="13.4" fill="#000" textLength="16.6" lengthAdjust="spacingAndGlyphs">15</text>
<text x="872.6" y="228.0" font-size="13.4" fill="#000" textLength="16.6" lengthAdjust="spacingAndGlyphs">18</text>
<text x="872.6" y="151.0" font-size="13.4" fill="#000" textLength="16.6" lengthAdjust="spacingAndGlyphs">21</text>
<text x="872.6" y="74.0" font-size="13.4" fill="#000" textLength="16.6" lengthAdjust="spacingAndGlyphs">24</text>
</svg>
</body></html>
